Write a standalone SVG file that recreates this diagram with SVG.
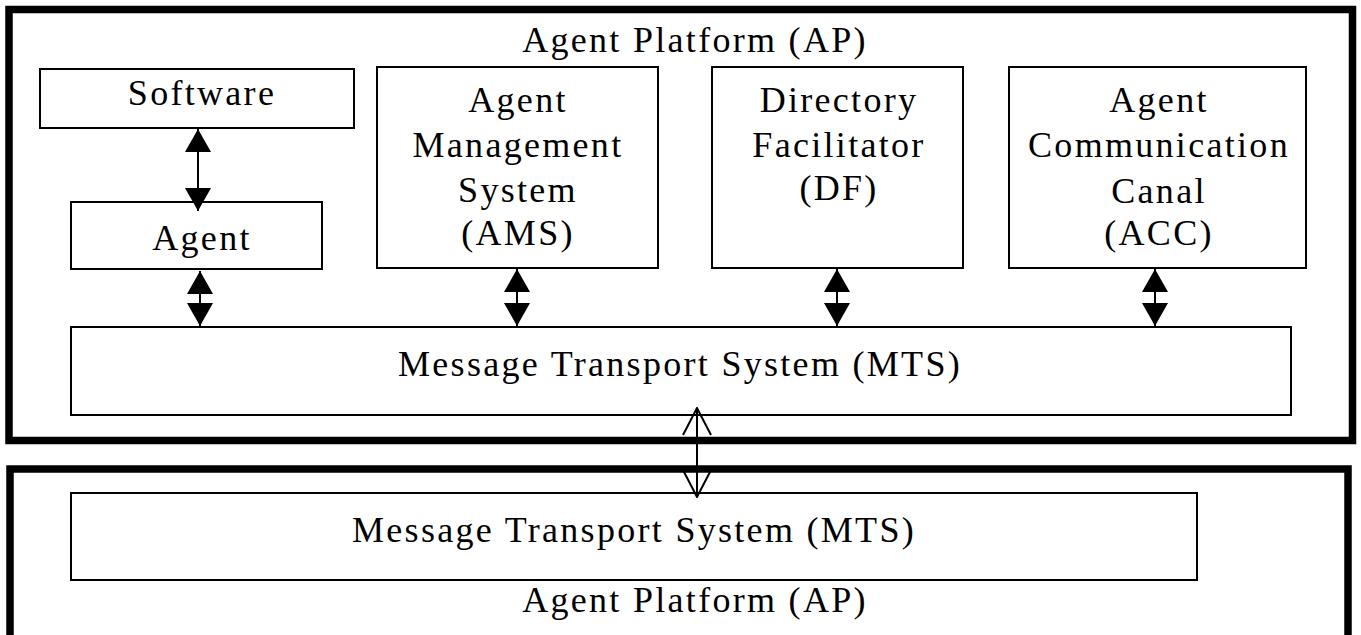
<svg xmlns="http://www.w3.org/2000/svg" width="1361" height="635" viewBox="0 0 1361 635">
<style>
  .box { fill: #fff; stroke: #000; stroke-width: 2; }
  .frame { fill: none; stroke: #000; stroke-width: 7.5; }
  .t { font-family: "Liberation Serif", "Times New Roman", serif; font-size: 36px; letter-spacing: 2.3px; text-anchor: middle; fill: #000; }
  .c { stroke: #000; stroke-width: 2; fill: none; }
</style>
<defs>
  <marker id="fa" viewBox="0 0 23 26" refX="23" refY="13" markerWidth="23" markerHeight="26" markerUnits="userSpaceOnUse" orient="auto-start-reverse">
    <path d="M0,0 L23,13 L0,26 Z" fill="#000"/>
  </marker>
  <marker id="oa" viewBox="-1 -1 29 30" refX="27" refY="14" markerWidth="29" markerHeight="30" markerUnits="userSpaceOnUse" orient="auto-start-reverse">
    <path d="M0,0 L27,14 L0,28" fill="none" stroke="#000" stroke-width="2"/>
  </marker>
</defs>
<rect width="1361" height="635" fill="#fff"/>

<g id="ap-top">
  <rect class="frame" x="9" y="9.5" width="1343.5" height="431"/>
  <text class="t" x="695" y="52">Agent Platform (AP)</text>
</g>
<g id="ap-bottom">
  <rect class="frame" x="10" y="469" width="1338" height="200"/>
  <text class="t" x="695" y="612">Agent Platform (AP)</text>
</g>

<g id="software">
  <rect class="box" x="40" y="69" width="314" height="59"/>
  <text class="t" x="202" y="105">Software</text>
</g>
<g id="agent">
  <rect class="box" x="71" y="202" width="251" height="67"/>
  <text class="t" x="202" y="250">Agent</text>
</g>
<g id="ams">
  <rect class="box" x="377" y="67" width="281" height="201"/>
  <text class="t" x="518" y="112">Agent</text>
  <text class="t" x="518" y="157">Management</text>
  <text class="t" x="518" y="202">System</text>
  <text class="t" x="518" y="245">(AMS)</text>
</g>
<g id="df">
  <rect class="box" x="712" y="67" width="251" height="201"/>
  <text class="t" x="839" y="112">Directory</text>
  <text class="t" x="839" y="157">Facilitator</text>
  <text class="t" x="839" y="200">(DF)</text>
</g>
<g id="acc">
  <rect class="box" x="1009" y="67" width="297" height="201"/>
  <text class="t" x="1159" y="112">Agent</text>
  <text class="t" x="1159" y="157">Communication</text>
  <text class="t" x="1159" y="203">Canal</text>
  <text class="t" x="1159" y="245">(ACC)</text>
</g>
<g id="mts-top">
  <rect class="box" x="71" y="327" width="1220" height="88"/>
  <text class="t" x="680" y="376">Message Transport System (MTS)</text>
</g>
<g id="mts-bottom">
  <rect class="box" x="71" y="493" width="1126" height="87"/>
  <text class="t" x="634" y="542">Message Transport System (MTS)</text>
</g>

<g id="connectors">
  <line class="c" x1="198" y1="129" x2="198" y2="211" marker-start="url(#fa)" marker-end="url(#fa)"/>
  <line class="c" x1="200" y1="271" x2="200" y2="326" marker-start="url(#fa)" marker-end="url(#fa)"/>
  <line class="c" x1="517" y1="269" x2="517" y2="326" marker-start="url(#fa)" marker-end="url(#fa)"/>
  <line class="c" x1="837" y1="269" x2="837" y2="326" marker-start="url(#fa)" marker-end="url(#fa)"/>
  <line class="c" x1="1155" y1="269" x2="1155" y2="326" marker-start="url(#fa)" marker-end="url(#fa)"/>
  <line class="c" x1="697" y1="408" x2="697" y2="497" marker-start="url(#oa)" marker-end="url(#oa)"/>
</g>
</svg>
